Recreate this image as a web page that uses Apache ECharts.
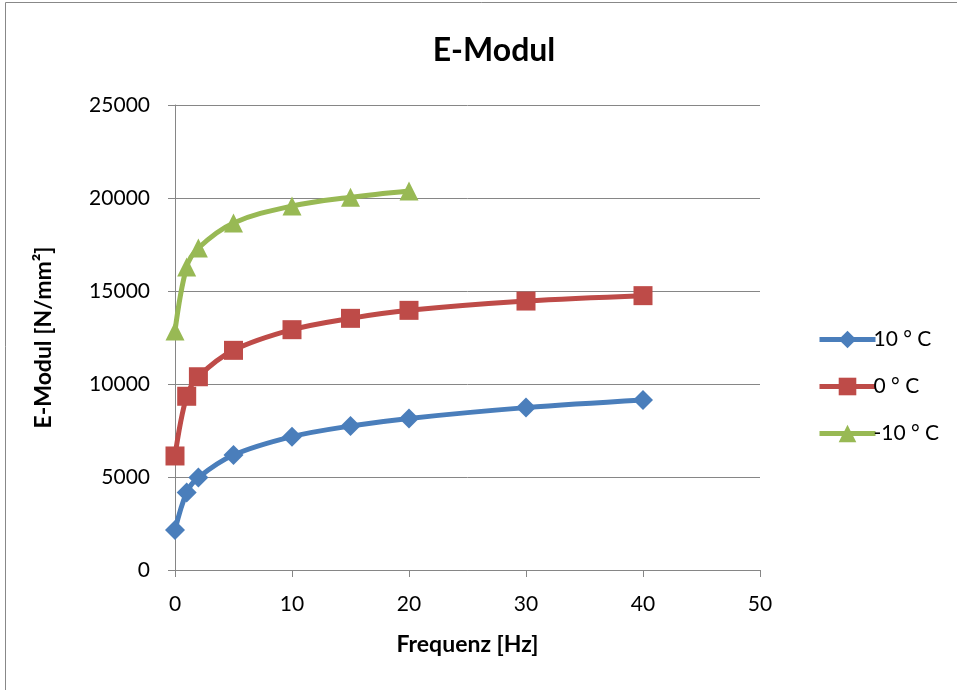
<!DOCTYPE html>
<html><head><meta charset="utf-8">
<script src="https://cdn.jsdelivr.net/npm/echarts@6/dist/echarts.min.js"></script>
<style>html,body{margin:0;padding:0;background:#fff}#c{width:957px;height:690px}</style>
</head><body><div id="c"></div>
<script>
const freq10 = [0, 1, 2, 5, 10, 15, 20, 30, 40];
const emod10 = [2150, 4170, 4970, 6180, 7170, 7740, 8150, 8730, 9140];
const freq0 = [0, 1, 2, 5, 10, 15, 20, 30, 40];
const emod0 = [6130, 9340, 10390, 11810, 12920, 13530, 13960, 14460, 14750];
const freqM10 = [0, 1, 2, 5, 10, 15, 20];
const emodM10 = [12850, 16290, 17310, 18660, 19570, 20040, 20380];
const seriesNames = ['10 ° C', '0 ° C', '-10 ° C'];
const colors = ['#4A7EBB', '#BE4B48', '#98B954'];

const font = 'Lato, "Open Sans", sans-serif';
function pairs(xs, ys){ return xs.map((x,i)=>[x, ys[i]]); }
const chart = echarts.init(document.getElementById('c'), null, {renderer:'canvas'});
const mk = (name, data, color, symbol, size) => ({
  name, type:'line', data, smooth:0.35, symbol, symbolSize:size,
  lineStyle:{color, width:5}, itemStyle:{color, borderWidth:0}, z:2
});
chart.setOption({
  animation:false,
  backgroundColor:'#fff',
  color: colors,
  graphic:[{type:'rect', shape:{x:5.5, y:2.5, width:1200, height:1200}, style:{fill:'none', stroke:'#888', lineWidth:1}, silent:true, z:-1}],
  title:{text:'E-Modul', left:489, top:30, textAlign:'center',
    textStyle:{fontFamily:font, fontSize:32, fontWeight:'bold', color:'#000'}},
  grid:{left:175, right:197, top:105, bottom:120},
  legend:{orient:'vertical', left:812, top:324, itemGap:26, itemWidth:56, itemHeight:22,
    data:seriesNames, lineStyle:{width:5},
    textStyle:{fontFamily:font, fontSize:21, color:'#000', padding:[0,0,0,-7]}},
  xAxis:{type:'value', min:0, max:50, interval:10,
    name:'Frequenz [Hz]', nameLocation:'middle', nameGap:63,
    nameTextStyle:{fontFamily:font, fontSize:23, fontWeight:'bold', color:'#000'},
    axisLine:{lineStyle:{color:'#868686', width:1}},
    axisTick:{show:true, length:7, lineStyle:{color:'#868686'}},
    axisLabel:{fontFamily:font, fontSize:21, color:'#000', margin:24},
    splitLine:{show:false}},
  yAxis:{type:'value', min:0, max:25000, interval:5000,
    name:'E-Modul [N/mm²]', nameLocation:'middle', nameGap:120,
    nameTextStyle:{fontFamily:font, fontSize:23, fontWeight:'bold', color:'#000'},
    axisLine:{show:true, lineStyle:{color:'#868686', width:1}},
    axisTick:{show:true, length:7, lineStyle:{color:'#868686'}},
    axisLabel:{fontFamily:font, fontSize:21, color:'#000', margin:25, formatter:v=>String(v)},
    splitLine:{show:true, lineStyle:{color:'#868686', width:1}}},
  series:[
    mk(seriesNames[0], pairs(freq10, emod10), colors[0], 'diamond', 20),
    mk(seriesNames[1], pairs(freq0, emod0), colors[1], 'rect', 19),
    mk(seriesNames[2], pairs(freqM10, emodM10), colors[2], 'triangle', 19)
  ]
});
</script></body></html>
